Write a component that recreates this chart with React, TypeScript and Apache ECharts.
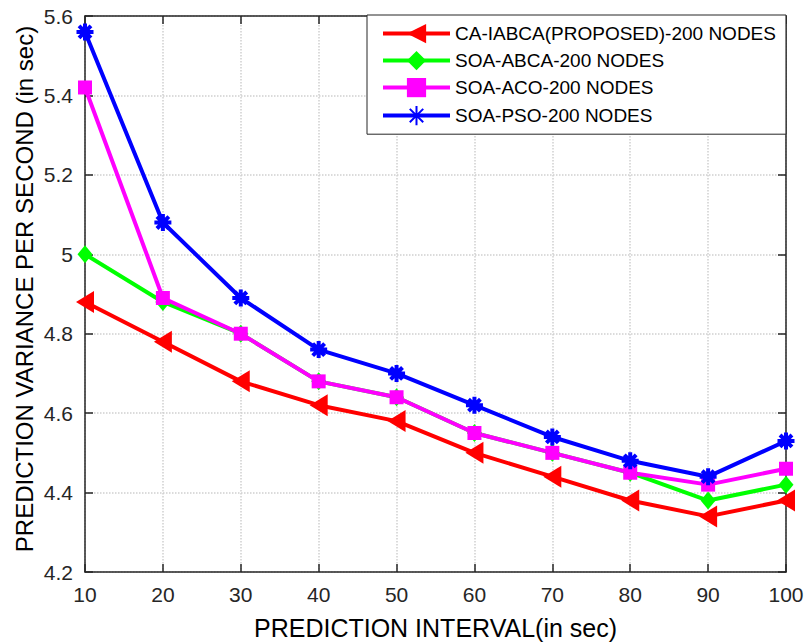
import React, { useEffect, useRef } from "react";
import * as echarts from "echarts";

// Prediction interval (sec) on the x axis
const intervals = [10, 20, 30, 40, 50, 60, 70, 80, 90, 100];

// Prediction variance per second for each method (200 nodes)
const caIabca = [4.88, 4.78, 4.68, 4.62, 4.58, 4.5, 4.44, 4.38, 4.34, 4.38];
const soaAbca = [5.0, 4.88, 4.8, 4.68, 4.64, 4.55, 4.5, 4.45, 4.38, 4.42];
const soaAco = [5.42, 4.89, 4.8, 4.68, 4.64, 4.55, 4.5, 4.45, 4.42, 4.46];
const soaPso = [5.56, 5.08, 4.89, 4.76, 4.7, 4.62, 4.54, 4.48, 4.44, 4.53];

const seriesNames = [
  "CA-IABCA(PROPOSED)-200 NODES",
  "SOA-ABCA-200 NODES",
  "SOA-ACO-200 NODES",
  "SOA-PSO-200 NODES",
];

const xTitle = "PREDICTION INTERVAL(in sec)";
const yTitle = "PREDICTION VARIANCE PER SECOND (in sec)";

const FONT = "Liberation Sans, Arial, sans-serif";
const AXIS_COLOR = "#262626";

const GRID = { left: 85, right: 22, top: 16, bottom: 71 };

const leftTriangle = "path://M0,5 L10,0 L10,10 Z";
const asterisk =
  "path://M0,5 L10,5 M5,0 L5,10 M1.5,1.5 L8.5,8.5 M1.5,8.5 L8.5,1.5";

export default function App() {
  const ref = useRef<HTMLDivElement>(null);

  useEffect(() => {
    if (!ref.current) return;
    const chart = echarts.init(ref.current, undefined, { renderer: "svg" });

    const pairs = (ys: number[]) => intervals.map((x, i) => [x, ys[i]]);

    const line = (
      name: string,
      ys: number[],
      color: string,
      symbol: string,
      symbolSize: number | number[],
      extra: any = {}
    ) => ({
      name,
      type: "line",
      data: pairs(ys),
      symbol,
      symbolSize,
      showAllSymbol: true,
      lineStyle: { color, width: 4 },
      itemStyle: { color, ...extra },
      z: 3,
    });

    const tickAxis = {
      axisLine: { show: true, lineStyle: { color: AXIS_COLOR, width: 1.5 } },
      axisTick: { show: true, inside: true, length: 8, lineStyle: { color: AXIS_COLOR, width: 1.5 } },
    };
    const gridLine = {
      show: true,
      lineStyle: { color: "#d0d0d0", width: 1.5, type: "dotted" },
    };
    const tickFont = { fontFamily: FONT, fontSize: 21, color: AXIS_COLOR };

    const plotCenterX = GRID.left + (808 - GRID.left - GRID.right) / 2;
    const plotCenterY = GRID.top + (643 - GRID.top - GRID.bottom) / 2;

    chart.setOption({
      animation: false,
      backgroundColor: "#fff",
      grid: { ...GRID, containLabel: false },
      legend: {
        orient: "vertical",
        left: 367,
        top: 15,
        padding: [9, 10, 8, 14],
        itemGap: 7.8,
        itemWidth: 67,
        itemHeight: 24,
        backgroundColor: "#fff",
        borderColor: AXIS_COLOR,
        borderWidth: 1,
        borderRadius: 0,
        lineStyle: { width: 4 },
        textStyle: { fontFamily: FONT, fontSize: 19, color: "#000" },
        data: seriesNames,
      },
      xAxis: [
        {
          type: "value",
          min: 10,
          max: 100,
          interval: 10,
          ...tickAxis,
          axisLabel: { ...tickFont, margin: 12 },
          splitLine: gridLine,
        },
        {
          type: "value",
          position: "top",
          min: 10,
          max: 100,
          interval: 10,
          ...tickAxis,
          axisLabel: { show: false },
          splitLine: { show: false },
        },
      ],
      yAxis: [
        {
          type: "value",
          min: 4.2,
          max: 5.6,
          interval: 0.2,
          ...tickAxis,
          axisLabel: {
            ...tickFont,
            margin: 12,
            formatter: (v: number) => String(Math.round(v * 10) / 10),
          },
          splitLine: gridLine,
        },
        {
          type: "value",
          position: "right",
          min: 4.2,
          max: 5.6,
          interval: 0.2,
          ...tickAxis,
          axisLabel: { show: false },
          splitLine: { show: false },
        },
      ],
      graphic: [
        {
          type: "text",
          x: plotCenterX,
          y: 628,
          style: {
            text: xTitle,
            fontFamily: FONT,
            fontSize: 25,
            fill: "#000",
            align: "center",
            verticalAlign: "middle",
          },
        },
        {
          type: "text",
          x: 24,
          y: plotCenterY - 5,
          rotation: Math.PI / 2,
          style: {
            text: yTitle,
            fontFamily: FONT,
            fontSize: 24,
            fill: "#000",
            align: "center",
            verticalAlign: "middle",
          },
        },
      ],
      series: [
        line(seriesNames[0], caIabca, "#ff0000", leftTriangle, [18, 22]),
        line(seriesNames[1], soaAbca, "#00ff00", "diamond", [15, 18]),
        line(seriesNames[2], soaAco, "#ff00ff", "rect", 14),
        line(seriesNames[3], soaPso, "#0000ff", asterisk, 17, {
          borderColor: "#0000ff",
          borderWidth: 4,
        }),
      ],
    });

    return () => chart.dispose();
  }, []);

  return (
    <div
      ref={ref}
      style={{ position: "fixed", left: 0, top: 0, width: 808, height: 643 }}
    />
  );
}
